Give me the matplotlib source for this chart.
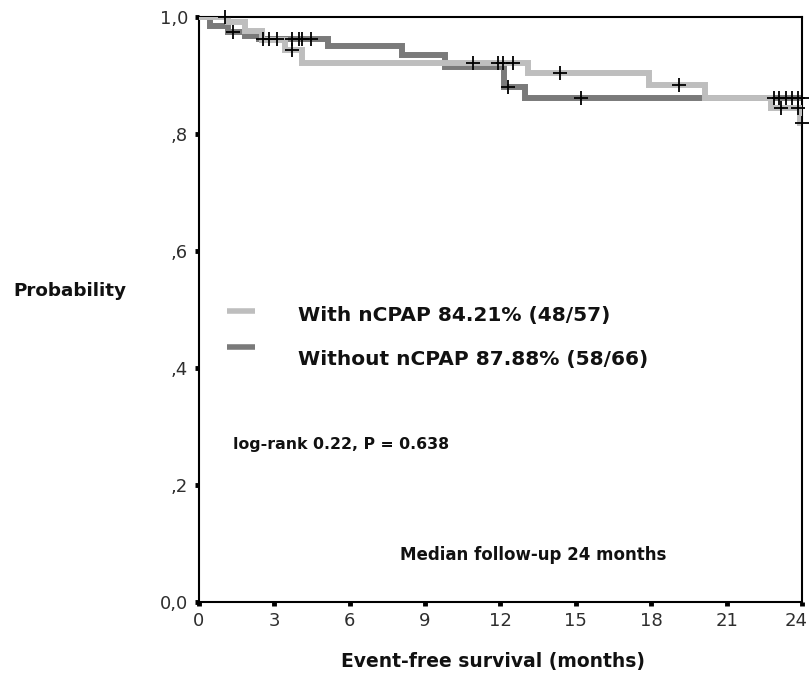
import numpy as np
import matplotlib
matplotlib.use("Agg")
import matplotlib.pyplot as plt
from matplotlib.lines import Line2D
from matplotlib.ticker import FixedLocator, FixedFormatter
from matplotlib.transforms import ScaledTranslation

# Kaplan-Meier step curves (time in months, survival probability after each step)
with_times = [0, 1.15, 1.83, 2.5, 3.43, 4.1, 13.1, 17.9, 20.15, 22.75, 23.93]
with_surv = [1.0, 0.991, 0.976, 0.96, 0.943, 0.922, 0.904, 0.884, 0.862, 0.844, 0.819]
with_censor = [1.05, 3.7, 10.9, 11.9, 12.1, 12.5, 14.35, 19.1, 23.17, 23.85, 24.0]

without_times = [0, 0.44, 1.16, 1.83, 2.4, 5.15, 8.09, 9.81, 12.12, 12.96]
without_surv = [1.0, 0.985, 0.975, 0.968, 0.962, 0.95, 0.935, 0.915, 0.880, 0.862]
without_censor = [1.35, 2.55, 2.8, 3.1, 3.7, 4.0, 4.1, 4.45, 12.3, 15.2,
                  22.9, 23.1, 23.35, 23.6, 23.85, 24.0]

x_ticks = [0, 3, 6, 9, 12, 15, 18, 21, 24]
y_ticks = [0.0, 0.2, 0.4, 0.6, 0.8, 1.0]
y_tick_labels = ["0,0", ",2", ",4", ",6", ",8", "1,0"]

legend_labels = ["With nCPAP 84.21% (48/57)", "Without nCPAP 87.88% (58/66)"]
stat_text = "log-rank 0.22, P = 0.638"
followup_text = "Median follow-up 24 months"

LIGHT = "#bebebe"
DARK = "#7a7a7a"
W, H = 812, 673

fig = plt.figure(figsize=(W / 100, H / 100), dpi=100)
ax = fig.add_axes([199 / W, 1 - 602 / H, (802 - 199) / W, (602 - 17) / H])


def step_value(times, surv, t):
    idx = np.searchsorted(times, t, side="right") - 1
    return np.asarray(surv)[idx]


def draw_curve(times, surv, censor, color, z):
    end = max(max(censor), times[-1])
    xs = list(times) + [end]
    ys = list(surv) + [surv[-1]]
    ax.step(xs, ys, where="post", color=color, lw=4.3, zorder=z,
            solid_capstyle="butt", solid_joinstyle="miter")
    cy = step_value(times, surv, np.asarray(censor))
    ax.plot(censor, cy, ls="none", marker="+", ms=10, mew=1.3,
            color="black", zorder=5, clip_on=False)


draw_curve(without_times, without_surv, without_censor, DARK, 2)
draw_curve(with_times, with_surv, with_censor, LIGHT, 3)

ax.set_xlim(0, 24)
ax.set_ylim(0, 1)
for s in ax.spines.values():
    s.set_linewidth(1.5)
    s.set_color("black")

ax.xaxis.set_major_locator(FixedLocator(x_ticks))
ax.yaxis.set_major_locator(FixedLocator(y_ticks))
ax.yaxis.set_major_formatter(FixedFormatter(y_tick_labels))
ax.tick_params(axis="both", direction="out", length=3, width=3.5,
               color="black", labelsize=13, labelcolor="#2e2e2e")
ax.tick_params(axis="y", pad=5)
ax.tick_params(axis="x", pad=4)

# keep the last x label inside the figure edge
fig.canvas.draw()
last = ax.get_xticklabels()[-1]
last.set_transform(last.get_transform() + ScaledTranslation(-6 / 100, 0, fig.dpi_scale_trans))

# axis titles
fig.text(13 / W, 1 - 291 / H, "Probability", fontsize=13.2, fontweight="bold",
         ha="left", va="center", color="#111111")
fig.text(493 / W, 1 - 662 / H, "Event-free survival (months)", fontsize=13.5,
         fontweight="bold", ha="center", va="center", color="#111111")

# legend
for (ly, ty, color, label) in [(311, 315, LIGHT, legend_labels[0]),
                               (347, 360, DARK, legend_labels[1])]:
    fig.add_artist(Line2D([227 / W, 255 / W], [1 - ly / H, 1 - ly / H],
                          color=color, lw=4.0, solid_capstyle="butt"))
    fig.text(298 / W, 1 - ty / H, label, fontsize=14.5, fontweight="bold",
             ha="left", va="center", color="#111111")

fig.text(233 / W, 1 - 444 / H, stat_text, fontsize=11.3, fontweight="bold",
         ha="left", va="center", color="#111111")
fig.text(400 / W, 1 - 555 / H, followup_text, fontsize=12, fontweight="bold",
         ha="left", va="center", color="#111111")

fig.savefig("out.png", dpi=100, facecolor="white")
